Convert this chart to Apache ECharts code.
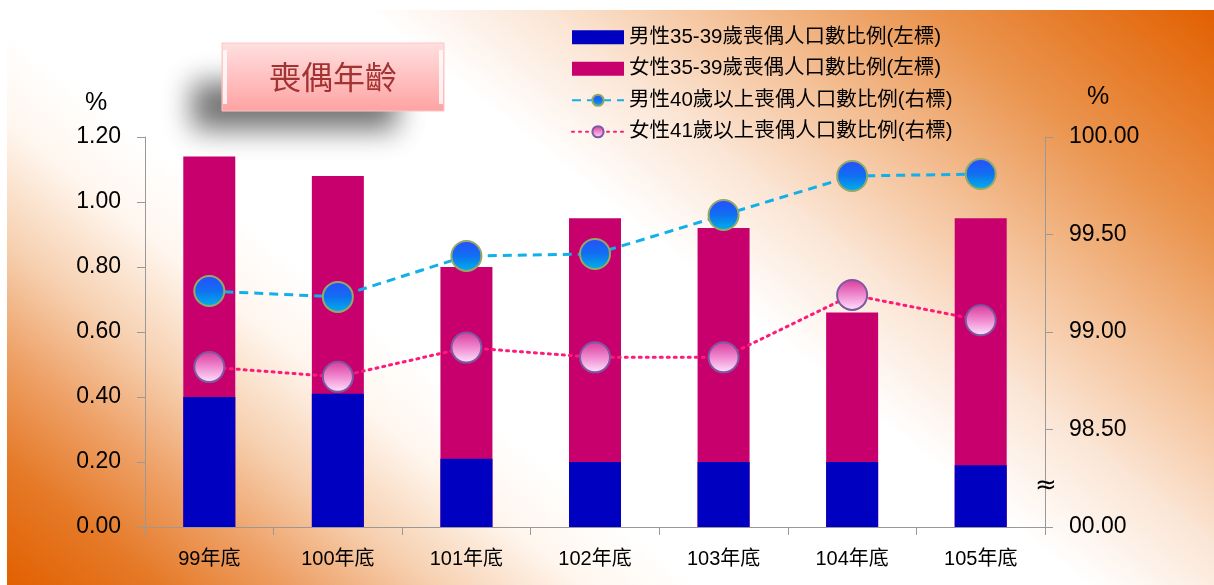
<!DOCTYPE html>
<html>
<head>
<meta charset="utf-8">
<script src="https://cdn.jsdelivr.net/npm/echarts@6/dist/echarts.min.js"></script>
<style>
html, body { margin: 0; padding: 0; background: #fff; }
#main { width: 1214px; height: 585px; }
</style>
</head>
<body>
<div id="main"></div>
<script>
var categories = ['99年底', '100年底', '101年底', '102年底', '103年底', '104年底', '105年底'];
var male3539 = [0.40, 0.41, 0.21, 0.20, 0.20, 0.20, 0.19];
var female3539 = [1.14, 1.08, 0.80, 0.95, 0.92, 0.66, 0.95];
var male40up = [99.21, 99.18, 99.39, 99.40, 99.60, 99.80, 99.81];
var female41up = [98.82, 98.77, 98.92, 98.87, 98.87, 99.19, 99.06];
var names = ['男性35-39歲喪偶人口數比例(左標)', '女性35-39歲喪偶人口數比例(左標)',
             '男性40歲以上喪偶人口數比例(右標)', '女性41歲以上喪偶人口數比例(右標)'];

var font = 'Arial, "Liberation Sans", "Noto Sans CJK TC", sans-serif';
var myChart = echarts.init(document.getElementById('main'));

// 背景漸層 (右上、左下為橘色)
var bg = new echarts.graphic.LinearGradient(234, 767, 986, -173, [
    { offset: 0, color: '#e26000' },
    { offset: 0.08, color: '#e57a28' },
    { offset: 0.15, color: '#eea066' },
    { offset: 0.22, color: '#f6cfae' },
    { offset: 0.3, color: '#fff6ee' },
    { offset: 0.36, color: '#ffffff' },
    { offset: 0.56, color: '#ffffff' },
    { offset: 0.65, color: '#fbe6d6' },
    { offset: 0.73, color: '#f5c6a0' },
    { offset: 0.85, color: '#ea944e' },
    { offset: 1, color: '#e26000' }
], true);

var blueBall = new echarts.graphic.LinearGradient(0, 0, 0, 1, [
    { offset: 0, color: '#2a4cff' },
    { offset: 0.5, color: '#1070f0' },
    { offset: 1, color: '#00b4e8' }
]);
var pinkBall = new echarts.graphic.LinearGradient(0, 0, 0, 1, [
    { offset: 0, color: '#d83898' },
    { offset: 0.5, color: '#f08ad0' },
    { offset: 1, color: '#ffe6ff' }
]);

var option = {
    animation: false,
    textStyle: { fontFamily: font },
    graphic: [
        { type: 'rect', z: -10, shape: { x: 7, y: 10, width: 1207, height: 575 }, style: { fill: bg } },
        // 標題陰影
        { type: 'rect', z: 1, shape: { x: 192 - 3000, y: 82, width: 205, height: 48 },
          style: { fill: '#888', shadowBlur: 28, shadowColor: 'rgba(90,90,90,0.85)', shadowOffsetX: 3000 } },
        { type: 'rect', z: 2, shape: { x: 222, y: 43, width: 222, height: 68 },
          style: {
              fill: new echarts.graphic.LinearGradient(0, 0, 0, 1, [
                  { offset: 0, color: '#ffe0e0' },
                  { offset: 1, color: '#ffa2a2' }
              ]),
              stroke: '#ffc4c4', lineWidth: 1
          } },
        { type: 'rect', z: 2, shape: { x: 223, y: 50, width: 4, height: 54 }, style: { fill: 'rgba(255,255,255,0.8)' } },
        { type: 'rect', z: 2, shape: { x: 439, y: 50, width: 4, height: 54 }, style: { fill: 'rgba(255,255,255,0.8)' } },
        { type: 'text', z: 3, x: 333, y: 77,
          style: { text: '喪偶年齡', fill: '#a33333', fontSize: 32, fontFamily: '"Noto Sans CJK TC", sans-serif',
                   align: 'center', verticalAlign: 'middle' } },
        { type: 'text', z: 3, x: 96, y: 103,
          style: { text: '%', fill: '#000', fontSize: 25, fontFamily: font, align: 'center', verticalAlign: 'middle' } },
        { type: 'text', z: 3, x: 1098, y: 97,
          style: { text: '%', fill: '#000', fontSize: 25, fontFamily: font, align: 'center', verticalAlign: 'middle' } },
        { type: 'text', z: 5, x: 1046, y: 486,
          style: { text: '≈', fill: '#000', fontSize: 26, fontFamily: '"DejaVu Sans", sans-serif',
                   align: 'center', verticalAlign: 'middle' } }
    ],
    legend: {
        orient: 'vertical',
        left: 566,
        top: 22,
        itemWidth: 52,
        itemHeight: 14,
        itemGap: 11,
        data: [
            { name: names[0], icon: 'rect' },
            { name: names[1], icon: 'rect' },
            names[2],
            names[3]
        ],
        textStyle: { fontSize: 20.5, color: '#000', fontFamily: font }
    },
    grid: { left: 145, right: 169, top: 137, bottom: 58 },
    xAxis: {
        type: 'category',
        data: categories,
        axisLine: { lineStyle: { color: '#999', width: 1 } },
        axisTick: { show: true, length: 8, lineStyle: { color: '#999' } },
        axisLabel: { fontSize: 20, color: '#000', margin: 22 }
    },
    yAxis: [
        {
            type: 'value', min: 0, max: 1.2, interval: 0.2,
            axisLine: { show: true, lineStyle: { color: '#999' } },
            axisTick: { show: true, length: 8, lineStyle: { color: '#999' } },
            splitLine: { show: false },
            axisLabel: { fontSize: 23, color: '#000', margin: 24, formatter: function (v) { return v.toFixed(2); } }
        },
        {
            type: 'value', min: 98, max: 100, interval: 0.5, position: 'right',
            axisLine: { show: true, lineStyle: { color: '#999' } },
            axisTick: { show: true, length: 8, lineStyle: { color: '#999' } },
            splitLine: { show: false },
            axisLabel: { fontSize: 23, color: '#000', margin: 24,
                formatter: function (v) { return v === 98 ? '00.00' : v.toFixed(2); } }
        }
    ],
    series: [
        {
            name: names[1], type: 'bar', data: female3539, barWidth: 52, barGap: '-100%',
            itemStyle: { color: '#c8006e' }
        },
        {
            name: names[0], type: 'bar', data: male3539, barWidth: 52, barGap: '-100%',
            itemStyle: { color: '#0000c0' }
        },
        {
            name: names[2], type: 'line', yAxisIndex: 1, data: male40up, z: 4,
            symbol: 'circle', symbolSize: 30,
            lineStyle: { color: '#12b0ea', width: 3, type: [9, 6] },
            itemStyle: { color: blueBall, borderColor: '#94a868', borderWidth: 2 }
        },
        {
            name: names[3], type: 'line', yAxisIndex: 1, data: female41up, z: 4,
            symbol: 'circle', symbolSize: 30,
            lineStyle: { color: '#ff1a78', width: 3, type: [2, 5], cap: 'round' },
            itemStyle: { color: pinkBall, borderColor: '#7a5aa0', borderWidth: 2 }
        }
    ]
};
myChart.setOption(option);
</script>
</body>
</html>
